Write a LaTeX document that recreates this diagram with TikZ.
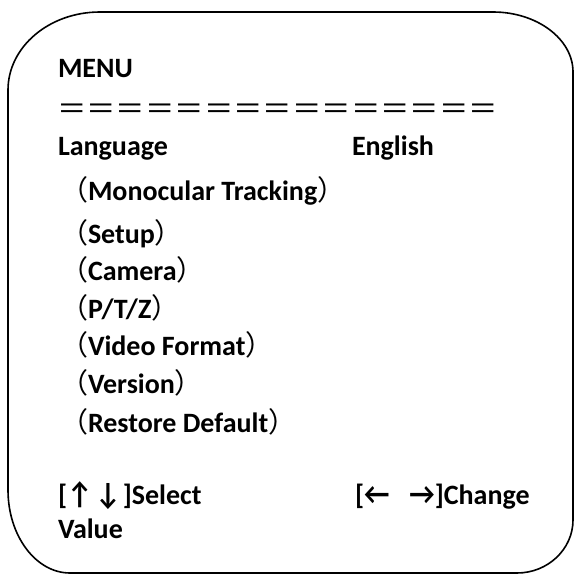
\documentclass[tikz,border=0pt]{standalone}
\usepackage{fontspec}
\usepackage{graphicx}
\setmainfont{Carlito}
\newfontfamily\cjk{Noto Sans CJK SC}
\newcommand{\arw}[1]{\scalebox{1.0}[1.1]{\bfseries #1}}
\newcommand{\lpar}{{\cjk\mdseries （}}
\newcommand{\rpar}{{\cjk\mdseries ）}}
\begin{document}
\begin{tikzpicture}[x=1pt,y=-1pt,
  txt/.style={anchor=base west,inner sep=0pt,outer sep=0pt,font=\fontsize{28}{34}\selectfont\bfseries},
  eqs/.style={anchor=base west,inner sep=0pt,outer sep=0pt,font=\fontsize{29.4}{34}\selectfont\cjk},
  frame/.style={line width=1.6pt,line join=round}]
\useasboundingbox (0,0) rectangle (574,575);
\draw[frame] (8,90) .. controls (8,47) and (49,12) .. (100,12) -- (493,12)
  .. controls (537,12) and (573,39) .. (573,72) -- (573,520)
  .. controls (573,549) and (548,573) .. (517,573) -- (70,573)
  .. controls (36,573) and (8,536) .. (8,490) -- cycle;
\node[txt] (menu) at (58,78) {MENU};
\node[eqs] (eq) at (57,120) {＝＝＝＝＝＝＝＝＝＝＝＝＝＝＝};
\node[txt] (lang) at (58,155) {Language};
\node[txt] (eng) at (352,155) {English};
\node[txt] (mono) at (60,200) {\lpar Monocular Tracking\rpar};
\node[txt] (setup) at (60,243) {\lpar Setup\rpar};
\node[txt] (cam) at (60,280) {\lpar Camera\rpar};
\node[txt] (ptz) at (60,318) {\lpar P/T/Z\rpar};
\node[txt] (vf) at (60,355) {\lpar Video Format\rpar};
\node[txt] (ver) at (60,393) {\lpar Version\rpar};
\node[txt] (rd) at (60,432) {\lpar Restore Default\rpar};
\node[txt] (sel) at (58,504) {[\arw{↑}\hspace{3pt}\arw{↓}\hspace{2pt}]Select};
\node[txt] (val) at (58,538) {Value};
\node[txt] (chg) at (355,504) {[\arw{←}\hspace{20pt}\arw{→}]Change};
\end{tikzpicture}
\end{document}
